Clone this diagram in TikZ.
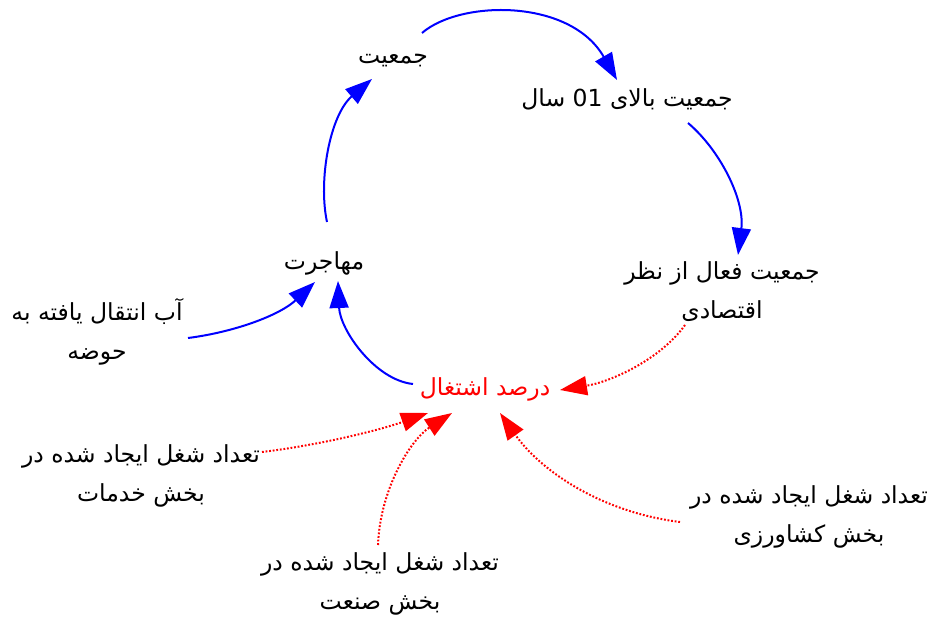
\documentclass[tikz,border=0pt]{standalone}
\usepackage{fontspec}
\newfontfamily\arabicfont[Script=Arabic]{DejaVu Sans}
\TeXXeTstate=1
\usetikzlibrary{arrows.meta}
\begin{document}
\begin{tikzpicture}[x=1pt,y=-1pt,
  lbl/.style={font={\arabicfont\fontsize{23.5}{39}\selectfont},align=center,inner sep=0pt},
  flow/.style={draw=blue,line width=2pt,-{Triangle[length=27pt,width=19pt]}},
  infl/.style={draw=red,line width=2pt,dash pattern=on 1.8pt off 1.8pt,-{Triangle[length=27pt,width=19pt]}}]
\useasboundingbox (0,0) rectangle (928,617);

% variables
\node[lbl] (pop)    at (393,61)  {\beginR جمعیت\endR};
\node[lbl] (pop10)  at (627,99)  {\beginR جمعیت بالای \beginL 01\endL{} سال\endR};
\node[lbl] (active) at (722,292) {\beginR جمعیت فعال از نظر\endR\\\beginR اقتصادی\endR};
\node[lbl] (mig)    at (324,263) {\beginR مهاجرت\endR};
\node[lbl] (water)  at (97,332)  {\beginR آب انتقال یافته به\endR\\\beginR حوضه\endR};
\node[lbl,text=red] (emp) at (485,389) {\beginR درصد اشتغال\endR};
\node[lbl] (serv)   at (141,476) {\beginR تعداد شغل ایجاد شده در\endR\\\beginR بخش خدمات\endR};
\node[lbl] (agri)   at (809,517) {\beginR تعداد شغل ایجاد شده در\endR\\\beginR بخش کشاورزی\endR};
\node[lbl] (ind)    at (380,584) {\beginR تعداد شغل ایجاد شده در\endR\\\beginR بخش صنعت\endR};

% main loop
\draw[flow] ([shift={(29,-28)}]pop.center) .. controls (460,0) and (570,-2) .. ([shift={(-10,-19)}]pop10.center);
\draw[flow] ([shift={(61,24)}]pop10.center) .. controls (720,150) and (745,200) .. ([shift={(16,-37)}]active.center);
\draw[infl] ([shift={(-37,33)}]active.center) .. controls (660,360) and (610,382) .. ([shift={(75,1)}]emp.center);
\draw[flow] ([shift={(-72,-5)}]emp.center) .. controls (375,380) and (340,330) .. ([shift={(14,18)}]mig.center);
\draw[flow] ([shift={(3,-41)}]mig.center) .. controls (318,180) and (330,115) .. ([shift={(-21,18)}]pop.center);

% external inputs
\draw[flow] ([shift={(91,6)}]water.center) .. controls (235,332) and (280,315) .. ([shift={(-9,19)}]mig.center);
\draw[infl] ([shift={(121,-24)}]serv.center) .. controls (320,445) and (380,430) .. ([shift={(-57,24)}]emp.center);
\draw[infl] ([shift={(-2,-39)}]ind.center) .. controls (380,490) and (410,440) .. ([shift={(-33,24)}]emp.center);
\draw[infl] ([shift={(-129,5)}]agri.center) .. controls (600,512) and (540,470) .. ([shift={(15,24)}]emp.center);
\end{tikzpicture}
\end{document}
